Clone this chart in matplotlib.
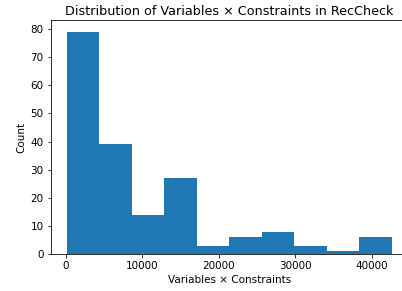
import numpy as np
import matplotlib
matplotlib.use("Agg")
import matplotlib.pyplot as plt

counts = [79, 39, 14, 27, 3, 6, 8, 3, 1, 6]
data_min = 100
data_max = 42600
title = "Distribution of Variables × Constraints in RecCheck"
xlabel = "Variables × Constraints"
ylabel = "Count"

edges = np.linspace(data_min, data_max, len(counts) + 1)
centers = (edges[:-1] + edges[1:]) / 2

plt.rcParams["font.size"] = 10.4
fig = plt.figure(figsize=(402 / 72, 291 / 72), dpi=72)
ax = fig.add_axes([50.5 / 402, (291 - 254.3) / 291, (408 - 50.5) / 402, (254.3 - 20.4) / 291])
ax.hist(centers, bins=edges, weights=counts, color="#1f77b4")
ax.spines["right"].set_visible(False)
ax.set_title(title, fontsize=12.8, pad=5)
ax.set_xlabel(xlabel)
ax.set_ylabel(ylabel)
fig.savefig("out.png", dpi=72)
